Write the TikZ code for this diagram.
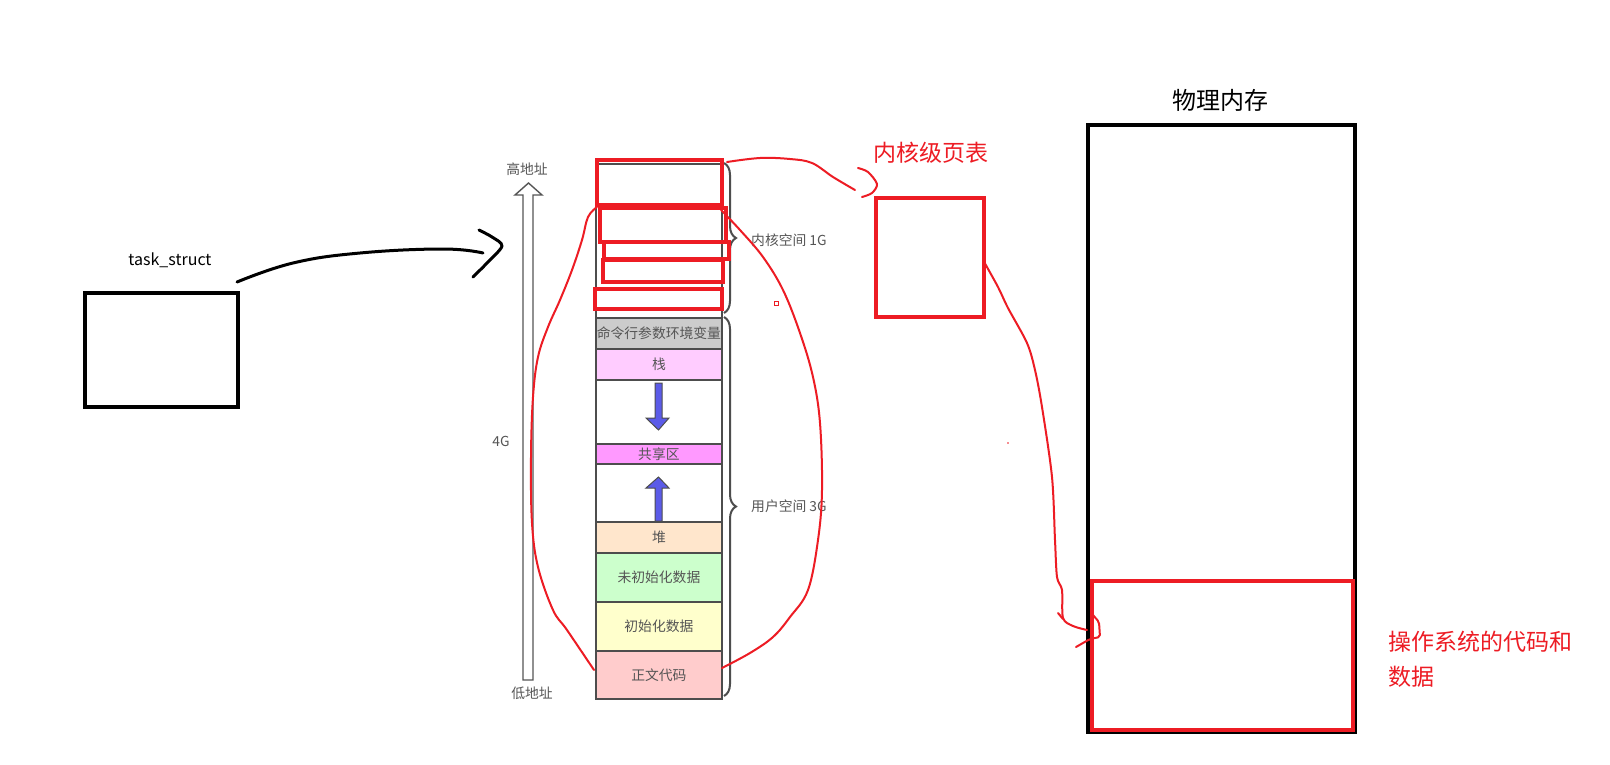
\documentclass[tikz,border=0pt]{standalone}
\usepackage{fontspec}
\setmainfont{Noto Sans CJK SC}
\usetikzlibrary{decorations.pathreplacing}
\definecolor{hred}{HTML}{ED1C24}
\definecolor{cellline}{HTML}{4D4D4D}
\definecolor{lbl}{HTML}{555555}
\definecolor{cmdgray}{HTML}{CCCCCC}
\definecolor{stackpink}{HTML}{FFCCFF}
\definecolor{sharepink}{HTML}{FF99FF}
\definecolor{heapor}{HTML}{FFE6CC}
\definecolor{bssgreen}{HTML}{CCFFCC}
\definecolor{datayel}{HTML}{FFFFCC}
\definecolor{textpink}{HTML}{FFCCCC}
\definecolor{arrowblue}{HTML}{5B5BE8}
\begin{document}
\begin{tikzpicture}[x=1pt,y=-1pt,
  memcell/.style={draw=cellline, line width=1.8pt, minimum width=126pt, inner sep=0pt, anchor=north west, text=lbl, font=\fontsize{13.8}{16}\selectfont},
  redbox/.style={draw=hred, line width=4pt, inner sep=0pt, anchor=north west},
  blackbox/.style={draw=black, line width=4pt, inner sep=0pt, anchor=north west},
  graylabel/.style={text=lbl, font=\fontsize{13.8}{16}\selectfont, inner sep=0pt},
  redlabel/.style={text=hred, font=\fontsize{23}{35}\selectfont, inner sep=0pt},
  redpen/.style={draw=hred, line width=2pt, line cap=round, line join=round},
  blackpen/.style={draw=black, line width=3pt, line cap=round, line join=round},
  bluearrow/.style={fill=arrowblue, draw=cellline, line width=1pt},
  bracepen/.style={draw=cellline, line width=2pt, decorate, decoration={brace, amplitude=12pt, aspect=0.5}},
]
\useasboundingbox (0,0) rectangle (1610,764);
\fill[white] (0,0) rectangle (1610,764);

% address arrow
\draw[draw=lbl, fill=white, line width=1.4pt] (523,680) -- (523,195) -- (515,195) -- (528.5,183) -- (542,195) -- (533,195) -- (533,680) -- cycle;
\node[graylabel] (hi) at (527,169) {高地址};
\node[graylabel] (lo) at (532,693) {低地址};
\node[graylabel] (fourg) at (501,441) {4G};

% memory column
\node[memcell, fill=white, minimum height=154pt] (kern) at (595,163) {};
\node[memcell, fill=cmdgray, minimum height=31pt] (cmd) at (595,317) {命令行参数环境变量};
\node[memcell, fill=stackpink, minimum height=31pt] (stack) at (595,348) {栈};
\node[memcell, fill=white, minimum height=64pt] (gap1) at (595,379) {};
\node[memcell, fill=sharepink, minimum height=20pt] (share) at (595,443) {共享区};
\node[memcell, fill=white, minimum height=58pt] (gap2) at (595,463) {};
\node[memcell, fill=heapor, minimum height=31pt] (heap) at (595,521) {堆};
\node[memcell, fill=bssgreen, minimum height=49pt] (bss) at (595,552) {未初始化数据};
\node[memcell, fill=datayel, minimum height=49pt] (data) at (595,601) {初始化数据};
\node[memcell, fill=textpink, minimum height=48pt] (code) at (595,650) {正文代码};

% blue arrows
\draw[bluearrow] (655,383) -- (662,383) -- (662,418) -- (669,418) -- (658.5,430) -- (646,418) -- (655,418) -- cycle;
\draw[bluearrow] (655,521) -- (655,488) -- (646,488) -- (658.5,477) -- (669,488) -- (662,488) -- (662,521) -- cycle;

% braces
\draw[bracepen] (724,163) -- (724,313);
\draw[bracepen] (724,317) -- (724,696);
\node[graylabel, anchor=west] (kl) at (751,240) {内核空间 1G};
\node[graylabel, anchor=west] (ul) at (751,506) {用户空间 3G};

% red rects in kernel region
\node[redbox, minimum width=125pt, minimum height=45pt] (k1) at (595,158) {};
\node[redbox, minimum width=126pt, minimum height=34pt] (k2) at (598,206) {};
\node[redbox, minimum width=125pt, minimum height=17pt] (k3) at (602,240) {};
\node[redbox, minimum width=120pt, minimum height=22pt] (k4) at (601,258) {};
\node[redbox, minimum width=127pt, minimum height=20pt] (k5) at (593,287) {};

% task_struct
\node[blackbox, minimum width=153pt, minimum height=114pt] (ts) at (83,291) {};
\node[font=\fontsize{16}{19}\selectfont, inner sep=0pt] (tst) at (170,260) {task\_struct};
\coordinate (tsout) at (237,282);
\coordinate (tsend) at (483,253);
\draw[blackpen] plot[smooth, tension=0.7] coordinates {(tsout) (293,263) (360,253) (443,249) (tsend)};
\draw[blackpen] plot[smooth, tension=0.5] coordinates {(479,230) (492,237) (502,246) (488,262) (473,277)};

% page table
\node[redbox, minimum width=108pt, minimum height=119pt] (pt) at (874,196) {};
\node[redlabel] (ptt) at (931,153) {内核级页表};

% physical memory
\node[blackbox, minimum width=267pt, minimum height=607pt] (pm) at (1086,123) {};
\node[font=\fontsize{24}{28}\selectfont, inner sep=0pt] (pmt) at (1220,100) {物理内存};
\node[redbox, minimum width=261pt, minimum height=149pt] (os) at (1090,579) {};
\node[redlabel, anchor=west, align=left] (ost) at (1388,659) {操作系统的代码和\\数据};

% red hand-drawn connectors
\coordinate (kt) at (727,162);
\coordinate (ptin) at (855,190);
\draw[redpen] plot[smooth, tension=0.6] coordinates {(kt) (760,158) (790,159) (812,163) (833,177) (ptin)};
\draw[redpen] plot[smooth, tension=0.5] coordinates {(858,168) (868,172) (877,184) (872,193) (862,197)};

\coordinate (ptout) at (983,260);
\coordinate (osin) at (1087,630);
\draw[redpen] plot[smooth, tension=0.5] coordinates {(ptout) (998,287) (1008,308) (1027,343) (1035,370) (1042,407) (1052,477) (1055,540) (1057,577) (1062,590) (1063,618) (1073,626) (osin)};
\draw[redpen] (1058,613) -- (1063,619);
\draw[redpen, rounded corners=2pt] (1093,615) -- (1099,622) -- (1100,637) -- (1090,639) -- (1076,647);

% loop around user space
\coordinate (lstart) at (597,207);
\coordinate (lend) at (594,670);
\draw[redpen] plot[smooth, tension=0.6] coordinates {(lstart) (588,217) (582,240) (572,270) (560,300) (548,327) (538,357) (533,397) (531,457) (532,523) (538,567) (553,610) (567,630) (lend)};
\coordinate (rstart) at (721,210);
\coordinate (rend) at (722,668);
\draw[redpen] plot[smooth, tension=0.6] coordinates {(rstart) (740,230) (763,257) (783,290) (800,333) (813,377) (820,423) (822,490) (818,540) (808,590) (790,617) (773,637) (750,653) (rend)};

% stray marks
\draw[hred, line width=1pt] (774,301) rectangle (778,305);
\fill[hred] (1008,443) circle (0.9);
\end{tikzpicture}
\end{document}
